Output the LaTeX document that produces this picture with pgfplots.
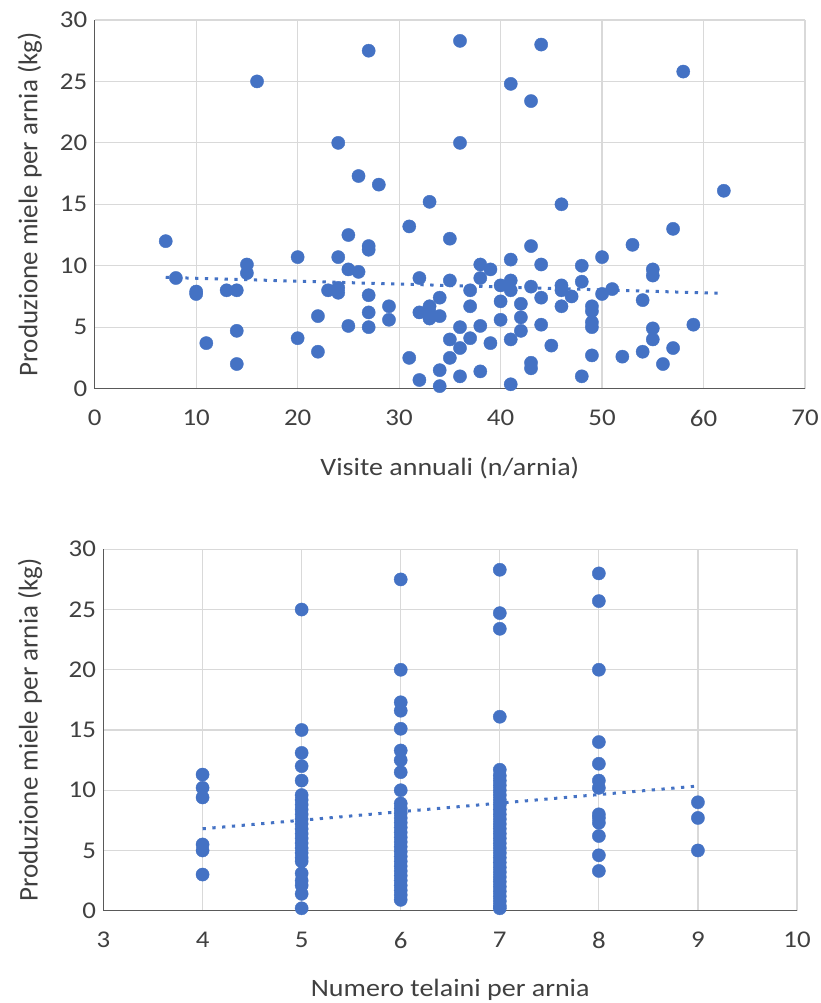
\documentclass[border=0pt]{standalone}
\usepackage{pgfplots}
\pgfplotsset{compat=1.18}
\usepackage{fontspec}
\setmainfont{Carlito}[FakeStretch=1.12]
\newfontfamily\yfont{Carlito}
\definecolor{xlblue}{HTML}{4472C4}
\definecolor{xlgrid}{HTML}{D9D9D9}
\definecolor{xltext}{HTML}{404040}
\definecolor{xlaxis}{HTML}{595959}
\pgfplotsset{
  excel/.style={
    scale only axis,
    anchor=south west,
    axis x line*=bottom,
    axis y line*=left,
    axis line style={xlaxis, line width=1.4pt},
    grid=major,
    major grid style={xlgrid, line width=1.2pt},
    tick style={draw=none},
    ticklabel style={font=\fontsize{24}{28}\selectfont, text=xltext},
    xticklabel style={yshift=-18pt},
    yticklabel style={xshift=-4pt},
    xlabel style={font=\fontsize{25}{30}\selectfont, text=xltext, at={(axis description cs:0.5,0)}, anchor=center},
    ylabel style={font=\yfont\fontsize{27}{32}\selectfont, text=xltext, at={(axis description cs:0,0.5)}, anchor=center},
    /pgf/number format/assume math mode=true,
    clip=false,
  },
  pts/.style={only marks, color=xlblue, mark=*, mark size=6.6pt, mark options={draw=none, fill=xlblue}},
  trend/.style={no marks, xlblue, line width=3pt, dash pattern=on 3.3pt off 6.5pt},
}
\begin{document}
\begin{tikzpicture}
\useasboundingbox (0pt,0pt) rectangle (821pt,1003pt);
% ---------- top chart ----------
\begin{axis}[excel,
  at={(94.7pt,614.4pt)}, width=710.3pt, height=368.6pt,
  xmin=0, xmax=70, ymin=0, ymax=30,
  xtick={0,10,...,70}, ytick={0,5,...,30},
  xlabel={Visite annuali (n/arnia)},
  ylabel={Produzione miele per arnia (kg)},
  xlabel style={yshift=-79pt},
  ylabel style={yshift=65pt},
]
\addplot[pts] coordinates {
(7,12.0) (8,9.0) (10,7.9) (10,7.7) (11,3.7) (13,8.0) (14,8.0) (14,4.7) (14,2.0)
(15,10.1) (15,9.4) (16,25.0) (20,10.7) (20,4.1) (22,5.9) (22,3.0) (23,8.0)
(24,20.0) (24,10.7) (24,8.2) (24,7.8) (25,12.5) (25,9.7) (25,5.1) (26,17.3) (26,9.5)
(27,27.5) (27,11.6) (27,11.3) (27,7.6) (27,6.2) (27,5.0) (28,16.6) (29,6.7) (29,5.6)
(31,13.2) (31,2.5) (32,9.0) (32,6.2) (32,0.7) (33,15.2) (33,6.7) (33,6.2) (33,5.7)
(34,7.4) (34,5.9) (34,1.5) (34,0.2) (35,12.2) (35,8.8) (35,4.0) (35,2.5)
(36,28.3) (36,20.0) (36,5.0) (36,3.3) (36,1.0) (37,8.0) (37,6.7) (37,4.1)
(38,10.1) (38,9.0) (38,5.1) (38,1.4) (39,9.7) (39,3.7) (40,8.4) (40,7.1) (40,5.6)
(41,24.8) (41,10.5) (41,8.8) (41,8.0) (41,4.0) (41,0.35) (42,6.9) (42,5.8) (42,4.7)
(43,23.4) (43,11.6) (43,8.3) (43,2.1) (43,1.65) (44,28.0) (44,10.1) (44,7.4) (44,5.2)
(45,3.5) (46,15.0) (46,8.4) (46,8.0) (46,6.7) (47,7.5) (48,10.0) (48,8.7) (48,1.0)
(49,6.7) (49,6.3) (49,5.4) (49,5.0) (49,2.7) (50,10.7) (50,7.7) (51,8.1) (52,2.6)
(53,11.7) (54,7.2) (54,3.0) (55,9.7) (55,9.2) (55,4.9) (55,4.0) (56,2.0)
(57,13.0) (57,3.3) (58,25.8) (59,5.2) (62,16.1)
};
\addplot[trend] coordinates {(7,9.05) (62,7.75)};
\end{axis}
% ---------- bottom chart ----------
\begin{axis}[excel,
  at={(103.5pt,92.3pt)}, width=693.5pt, height=361.4pt,
  xmin=3, xmax=10, ymin=0, ymax=30,
  xtick={3,...,10}, ytick={0,5,...,30},
  xlabel={Numero telaini per arnia},
  ylabel={Produzione miele per arnia (kg)},
  xlabel style={yshift=-79pt},
  ylabel style={yshift=73.5pt},
]
\addplot[pts] coordinates {
(4,11.3) (4,10.2) (4,9.4) (4,5.5) (4,5.0) (4,3.0)
(5,25.0) (5,15.0) (5,13.1) (5,12.0) (5,10.8) (5,9.6) (5,9.2) (5,8.8) (5,8.4) (5,8.0)
(5,7.6) (5,7.2) (5,6.8) (5,6.4) (5,6.0) (5,5.6) (5,5.2) (5,4.8) (5,4.4) (5,4.1)
(5,3.1) (5,2.5) (5,2.1) (5,1.4) (5,0.2)
(6,27.5) (6,20.0) (6,17.3) (6,16.6) (6,15.1) (6,13.3) (6,12.5) (6,11.5) (6,10.0)
(6,8.9) (6,8.5) (6,8.1) (6,7.7) (6,7.3) (6,6.9) (6,6.5) (6,6.1) (6,5.7) (6,5.3)
(6,4.9) (6,4.5) (6,4.1) (6,3.7) (6,3.3) (6,2.9) (6,2.5) (6,2.1) (6,1.7) (6,1.3) (6,0.9)
(7,28.3) (7,24.7) (7,23.4) (7,16.1) (7,11.7) (7,11.2) (7,10.8) (7,10.4) (7,10.0)
(7,9.6) (7,9.2) (7,8.8) (7,8.4) (7,8.0) (7,7.6) (7,7.2) (7,6.8) (7,6.4) (7,6.0)
(7,5.6) (7,5.2) (7,4.8) (7,4.4) (7,4.0) (7,3.6) (7,3.2) (7,2.8) (7,2.4) (7,2.0)
(7,1.6) (7,1.2) (7,0.8) (7,0.4) (7,0.2)
(8,28.0) (8,25.7) (8,20.0) (8,14.0) (8,12.2) (8,10.8) (8,10.2) (8,8.0) (8,7.7)
(8,7.3) (8,6.2) (8,4.6) (8,3.3)
(9,9.0) (9,7.7) (9,5.0)
};
\addplot[trend] coordinates {(4,6.8) (9,10.35)};
\end{axis}
\end{tikzpicture}
\end{document}
